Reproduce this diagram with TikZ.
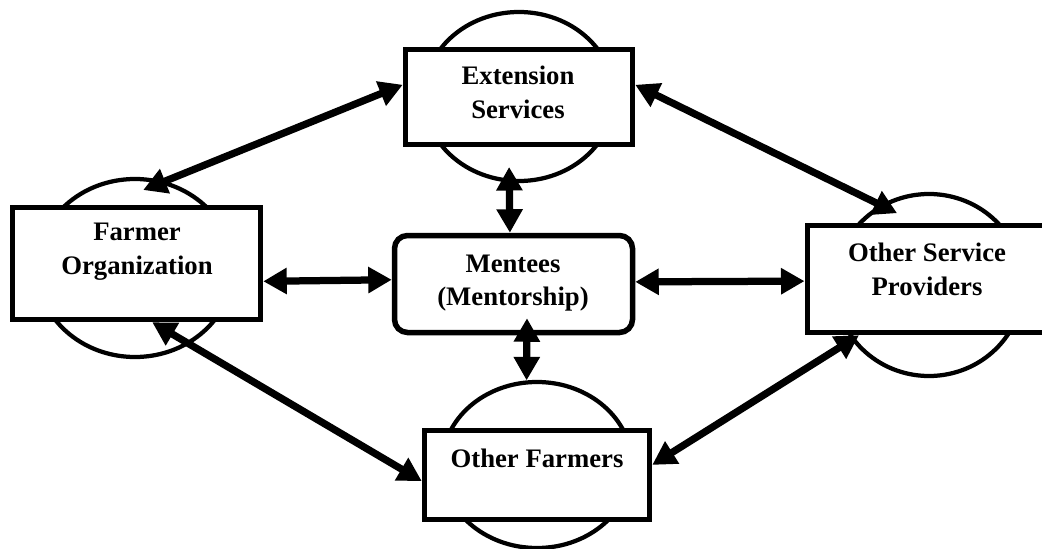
\documentclass[tikz,border=0pt]{standalone}
\usepackage{fontspec}
\setmainfont{Liberation Serif}
\usetikzlibrary{arrows.meta,shapes.geometric,calc}

\begin{document}
\begin{tikzpicture}[
    ring/.style={draw,ellipse,line width=0.085cm,inner sep=0pt},
    unit/.style={draw,rectangle,line width=0.11cm,fill=white,inner sep=0pt},
    hub/.style={unit,rounded corners=0.26cm},
    tag/.style={align=center,inner sep=0pt,font=\fontsize{15.2}{19.2}\selectfont\bfseries},
    link/.style={line width=0.145cm,{Triangle[length=0.47cm,width=0.5cm]}-{Triangle[length=0.47cm,width=0.5cm]}}
  ]
  \clip (0,0) rectangle (20.84,10.96);
  \node[ring,minimum width=3.92cm,minimum height=3.56cm] (fo-c) at (2.70,5.60) {};
  \node[ring,minimum width=3.80cm,minimum height=3.38cm] (es-c) at (10.38,9.03) {};
  \node[ring,minimum width=3.76cm,minimum height=3.64cm] (osp-c) at (18.58,5.26) {};
  \node[ring,minimum width=3.80cm,minimum height=3.32cm] (of-c) at (10.74,1.66) {};
  \node[unit,minimum width=4.96cm,minimum height=2.24cm] (fo) at (2.73,5.69) {};
  \node[unit,minimum width=4.54cm,minimum height=1.90cm] (es) at (10.38,9.02) {};
  \node[unit,minimum width=4.75cm,minimum height=2.14cm] (osp) at (18.52,5.38) {};
  \node[unit,minimum width=4.50cm,minimum height=1.78cm] (of) at (10.74,1.46) {};
  \node[hub,minimum width=4.76cm,minimum height=1.94cm] (m) at (10.27,5.28) {};
  \node[tag] (fo-t) at (2.74,5.92) {Farmer\\Organization};
  \node[tag] (es-t) at (10.36,9.12) {Extension\\Services};
  \node[tag] (osp-t) at (18.54,5.58) {Other Service\\Providers};
  \node[tag] (of-t) at (10.74,1.80) {Other Farmers};
  \node[tag] (m-t) at (10.26,5.30) {Mentees\\(Mentorship)};
  \draw[link] ($(fo-c)!0.86!(fo-c.84)$) -- (es.174);
  \draw[link] (es.6) -- ($(osp-c)!0.84!(osp-c.114)$);
  \draw[link] ($(es-c)!0.82!(es-c.262)$) -- (m.94);
  \draw[link] (fo.352) -- (m.178);
  \draw[link] (m.1) -- (osp.181);
  \draw[link] ([xshift=0.27cm,yshift=0.34cm]m.south) -- (of-c.97);
  \draw[link] (fo.285) -- (of.183);
  \draw[link] (osp.220) -- (of.5);
\end{tikzpicture}
\end{document}
